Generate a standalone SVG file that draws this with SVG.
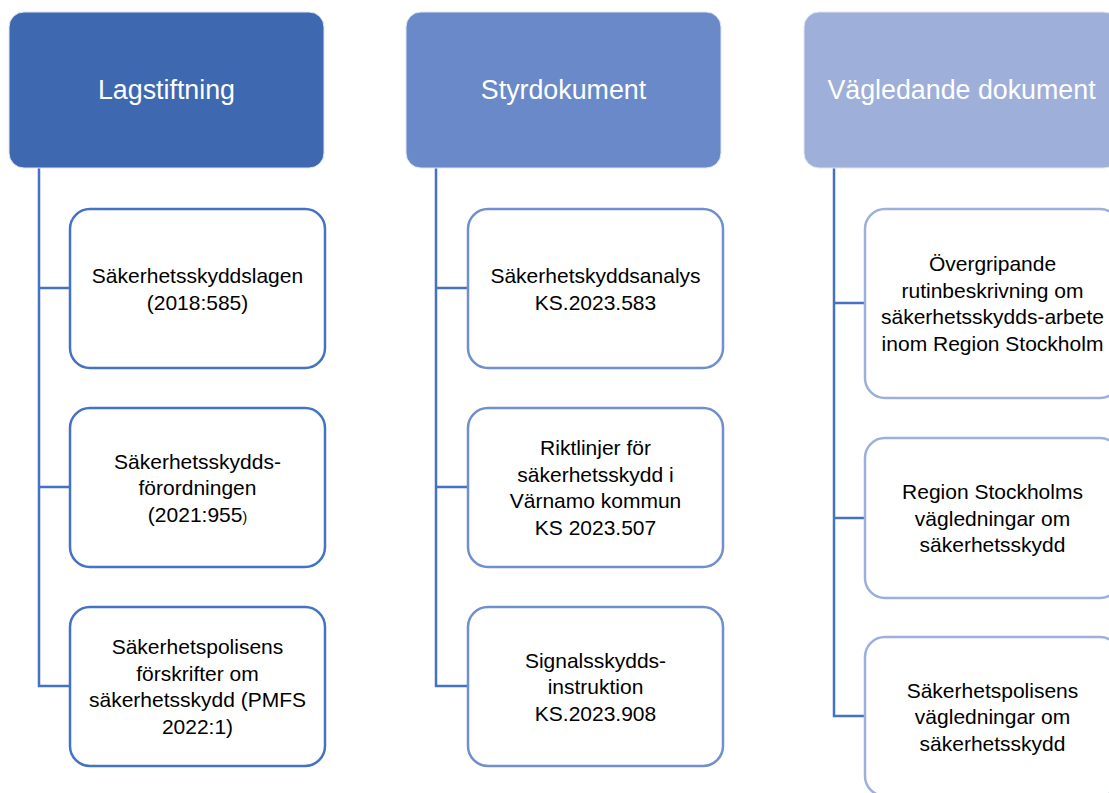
<svg xmlns="http://www.w3.org/2000/svg" width="1109" height="793" viewBox="0 0 1109 793">
<style>
.hd{stroke:#dfe6f3;stroke-width:1}
.h1{fill:#3e69b1}.h2{fill:#6a89c8}.h3{fill:#9eafd9}
.ht{font-family:"Liberation Sans",Arial,sans-serif;font-size:26.8px;fill:#ffffff;text-anchor:middle}
.bx{fill:#ffffff;stroke-width:2.5}
.b1{stroke:#4472c4}.b2{stroke:#6f8fcd}.b3{stroke:#9bb0dc}
.tx{font-family:"Liberation Sans",Arial,sans-serif;font-size:21px;fill:#000000;text-anchor:middle}
.cn{fill:none;stroke:#4472c4;stroke-width:2.5}
</style>
<rect width="1109" height="793" fill="#ffffff"/>
<g id="connectors">
<path class="cn" d="M39 168V686H70M39 288H70M39 487H70"/>
<path class="cn" d="M436 168V686H468M436 288H468M436 487H468"/>
<path class="cn" d="M834 168V716H865M834 303H865M834 518H865"/>
</g>
<g id="h-lagstiftning"><rect class="hd h1" x="9" y="12" width="315" height="156" rx="15"/><text class="ht" x="166.5" y="99">Lagstiftning</text></g>
<g id="h-styrdokument"><rect class="hd h2" x="406" y="12" width="315" height="156" rx="15"/><text class="ht" x="563.5" y="99">Styrdokument</text></g>
<g id="h-vagledande"><rect class="hd h3" x="804" y="12" width="315" height="156" rx="15"/><text class="ht" x="961.5" y="99">Vägledande dokument</text></g>

<g id="n-lag1"><rect class="bx b1" x="70" y="209" width="255" height="159" rx="20"/><text class="tx" x="197.5" y="283"><tspan x="197.5">Säkerhetsskyddslagen</tspan><tspan x="197.5" dy="26.5">(2018:585)</tspan></text></g>
<g id="n-lag2"><rect class="bx b1" x="70" y="408" width="255" height="159" rx="20"/><text class="tx" x="197.5" y="468.5"><tspan x="197.5">Säkerhetsskydds-</tspan><tspan x="197.5" dy="26.5">förordningen</tspan><tspan x="197.5" dy="26.5">(2021:955<tspan font-size="14px">)</tspan></tspan></text></g>
<g id="n-lag3"><rect class="bx b1" x="70" y="607" width="255" height="159" rx="20"/><text class="tx" x="197.5" y="654"><tspan x="197.5">Säkerhetspolisens</tspan><tspan x="197.5" dy="26.5">förskrifter om</tspan><tspan x="197.5" dy="26.5">säkerhetsskydd (PMFS</tspan><tspan x="197.5" dy="26.5">2022:1)</tspan></text></g>

<g id="n-styr1"><rect class="bx b2" x="468" y="209" width="255" height="159" rx="20"/><text class="tx" x="595.5" y="283"><tspan x="595.5">Säkerhetskyddsanalys</tspan><tspan x="595.5" dy="26.5">KS.2023.583</tspan></text></g>
<g id="n-styr2"><rect class="bx b2" x="468" y="408" width="255" height="159" rx="20"/><text class="tx" x="595.5" y="455"><tspan x="595.5">Riktlinjer för</tspan><tspan x="595.5" dy="26.5">säkerhetsskydd i</tspan><tspan x="595.5" dy="26.5">Värnamo kommun</tspan><tspan x="595.5" dy="26.5">KS 2023.507</tspan></text></g>
<g id="n-styr3"><rect class="bx b2" x="468" y="607" width="255" height="159" rx="20"/><text class="tx" x="595.5" y="667.5"><tspan x="595.5">Signalsskydds-</tspan><tspan x="595.5" dy="26.5">instruktion</tspan><tspan x="595.5" dy="26.5">KS.2023.908</tspan></text></g>

<g id="n-vag1"><rect class="bx b3" x="865" y="209" width="255" height="189" rx="20"/><text class="tx" x="992.5" y="271"><tspan x="992.5">Övergripande</tspan><tspan x="992.5" dy="26.5">rutinbeskrivning om</tspan><tspan x="992.5" dy="26.5">säkerhetsskydds-arbete</tspan><tspan x="992.5" dy="26.5">inom Region Stockholm</tspan></text></g>
<g id="n-vag2"><rect class="bx b3" x="865" y="438" width="255" height="160" rx="20"/><text class="tx" x="992.5" y="499"><tspan x="992.5">Region Stockholms</tspan><tspan x="992.5" dy="26.5">vägledningar om</tspan><tspan x="992.5" dy="26.5">säkerhetsskydd</tspan></text></g>
<g id="n-vag3"><rect class="bx b3" x="865" y="637" width="255" height="159" rx="20"/><text class="tx" x="992.5" y="697.5"><tspan x="992.5">Säkerhetspolisens</tspan><tspan x="992.5" dy="26.5">vägledningar om</tspan><tspan x="992.5" dy="26.5">säkerhetsskydd</tspan></text></g>
</svg>
